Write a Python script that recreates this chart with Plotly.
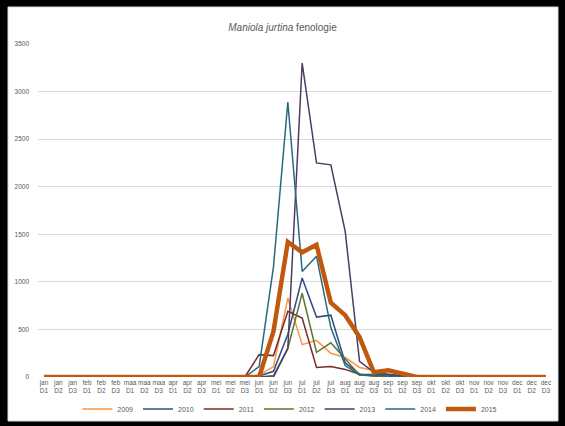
import plotly.graph_objects as go

# decaden (D1, D2, D3) per maand
maanden = ['jan', 'feb', 'maa', 'apr', 'mei', 'jun', 'jul', 'aug', 'sep', 'okt', 'nov', 'dec']
decaden = ['D1', 'D2', 'D3']
labels = [f'{m}<br>{d}' for m in maanden for d in decaden]

z15 = [0] * 15
y2009 = z15 + [20, 110, 830, 340, 385, 250, 205, 100, 70, 30, 10] + [0] * 10
y2010 = z15 + [10, 60, 450, 1040, 630, 650, 150, 30, 25, 30, 10] + [0] * 10
y2011 = z15 + [235, 225, 690, 620, 100, 110, 80, 30, 10, 0, 0] + [0] * 10
y2012 = z15 + [0, 15, 300, 880, 260, 360, 190, 20, 10, 5, 0] + [0] * 10
y2013 = z15 + [0, 0, 300, 3300, 2250, 2230, 1530, 165, 50, 20, 10] + [0] * 10
y2014 = z15 + [110, 1160, 2890, 1110, 1270, 520, 120, 20, 20, 10, 0] + [0] * 10
y2015 = z15 + [0, 480, 1420, 1310, 1390, 780, 650, 420, 50, 70, 30] + [0] * 10

jaren = ['2009', '2010', '2011', '2012', '2013', '2014', '2015']
reeksen = [y2009, y2010, y2011, y2012, y2013, y2014, y2015]
kleuren = ['#F79646', '#2C4D86', '#772C2A', '#5F7530', '#4D3B62', '#276A7C', '#C0590F']
diktes = [1.5, 1.5, 1.5, 1.5, 1.5, 1.5, 4.5]

fig = go.Figure()
for jaar, ys, kleur, dikte in zip(jaren, reeksen, kleuren, diktes):
    fig.add_trace(go.Scatter(x=list(range(36)), y=ys, mode='lines', name=jaar,
                             line=dict(color=kleur, width=dikte)))

grijs = '#595959'
fig.update_layout(
    width=565, height=426,
    paper_bgcolor='black', plot_bgcolor='white',
    margin=dict(l=38, r=13, t=44, b=49, autoexpand=False),
    font=dict(family='Liberation Sans, Arial, sans-serif', size=7, color=grijs),
    title=dict(text='<i>Maniola jurtina</i> fenologie', x=0.5, xanchor='center',
               y=1 - 27 / 426, yanchor='middle', font=dict(size=10, color=grijs)),
    showlegend=True,
    legend=dict(orientation='h', x=0.49, xanchor='center', yref='container',
                y=1 - 409 / 426, yanchor='middle', itemwidth=30,
                font=dict(size=7, color=grijs), bgcolor='rgba(0,0,0,0)'),
    shapes=[dict(type='rect', xref='paper', yref='paper', layer='below',
                 x0=-30 / 514, x1=1 + 6 / 514, y0=-44 / 333, y1=1 + 37 / 333,
                 fillcolor='white', line=dict(color='#D9D9D9', width=1))],
)
fig.update_xaxes(tickmode='array', tickvals=list(range(36)), ticktext=labels,
                 range=[-0.42, 35.42], showgrid=False, zeroline=False, ticks='',
                 tickangle=0, tickfont=dict(size=6.5, color=grijs))
fig.update_yaxes(range=[0, 3500], dtick=500, showgrid=True, gridcolor='#D9D9D9',
                 zeroline=False, ticks='', ticklabelstandoff=8,
                 tickfont=dict(size=6.5, color=grijs))

# pagina zonder marge, zodat de figuur precies in het venster valt
fig.write_html('out.html', config={'displayModeBar': False},
               post_script="document.body.style.margin='0';"
               "document.body.style.background='black';")
